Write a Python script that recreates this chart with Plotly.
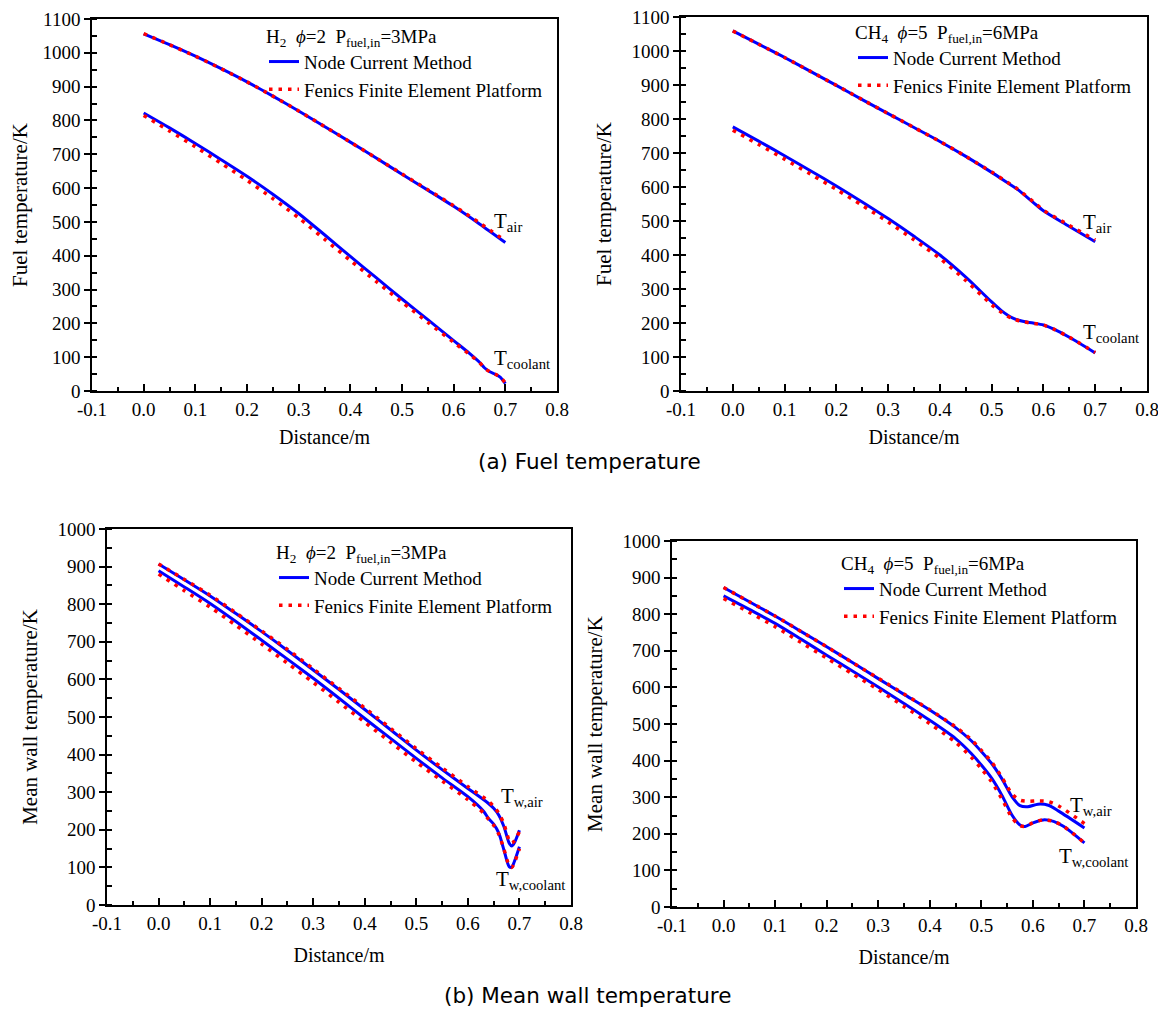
import plotly.graph_objects as go

# ---------------- data ----------------
# (a) H2 fuel temperature
tl_x_air = [0, 0.05, 0.1, 0.15, 0.2, 0.25, 0.3, 0.35, 0.4, 0.45, 0.5, 0.55, 0.6, 0.65, 0.7]
tl_air_ncm = [1056, 1024, 990, 953, 914, 872, 828, 782, 736, 689, 641, 594, 546, 494, 439]
tl_air_fen = [1057, 1024, 990, 953, 914, 872, 828, 782, 736, 689, 642, 595, 548, 497, 444]
tl_x_cool = [0, 0.05, 0.1, 0.15, 0.2, 0.25, 0.3, 0.35, 0.4, 0.45, 0.5, 0.55, 0.6, 0.63, 0.65, 0.66, 0.67, 0.68, 0.69, 0.7]
tl_cool_ncm = [822, 778, 732, 684, 635, 582, 525, 462, 398, 335, 272, 211, 149, 112, 85, 68, 57, 50, 41, 22]
tl_cool_fen = [815, 769, 722, 673, 623, 569, 512, 449, 386, 324, 263, 203, 144, 109, 84, 67, 57, 50, 41, 24]

# (a) CH4 fuel temperature
tr_x_air = [0, 0.05, 0.1, 0.15, 0.2, 0.25, 0.3, 0.35, 0.4, 0.45, 0.5, 0.53, 0.55, 0.58, 0.6, 0.65, 0.7]
tr_air_ncm = [1059, 1020, 981, 940, 899, 857, 816, 775, 734, 690, 643, 613, 593, 555, 530, 484, 439]
tr_air_fen = [1059, 1020, 981, 940, 899, 857, 816, 775, 734, 690, 644, 614, 594, 557, 532, 487, 444]
tr_x_cool = [0, 0.05, 0.1, 0.15, 0.2, 0.25, 0.3, 0.35, 0.4, 0.45, 0.5, 0.52, 0.54, 0.56, 0.58, 0.6, 0.62, 0.65, 0.7]
tr_cool_ncm = [777, 735, 692, 648, 603, 556, 507, 455, 400, 335, 262, 235, 215, 205, 200, 194, 182, 158, 112]
tr_cool_fen = [767, 725, 682, 638, 593, 546, 497, 445, 390, 325, 254, 230, 213, 204, 199, 194, 182, 158, 113]

# (b) H2 mean wall temperature
bl_x_air = [0, 0.05, 0.1, 0.15, 0.2, 0.25, 0.3, 0.35, 0.4, 0.45, 0.5, 0.55, 0.6, 0.64, 0.65, 0.66, 0.67, 0.68, 0.685, 0.69, 0.7]
bl_air_ncm = [907, 865, 822, 775, 727, 677, 625, 573, 520, 466, 412, 360, 310, 270, 257, 239, 208, 165, 157, 165, 199]
bl_air_fen = [907, 866, 824, 777, 729, 680, 628, 576, 524, 470, 416, 365, 315, 276, 262, 244, 215, 172, 165, 170, 195]
bl_x_cool = [0, 0.05, 0.1, 0.15, 0.2, 0.25, 0.3, 0.35, 0.4, 0.45, 0.5, 0.55, 0.6, 0.63, 0.64, 0.65, 0.66, 0.67, 0.68, 0.685, 0.69, 0.7]
bl_cool_ncm = [889, 846, 802, 754, 704, 654, 603, 550, 496, 443, 390, 338, 288, 250, 230, 215, 191, 146, 102, 100, 115, 155]
bl_cool_fen = [880, 836, 792, 744, 694, 643, 592, 539, 486, 433, 380, 330, 280, 245, 228, 212, 188, 148, 105, 100, 112, 150]

# (b) CH4 mean wall temperature
br_x_air = [0, 0.05, 0.1, 0.15, 0.2, 0.25, 0.3, 0.35, 0.4, 0.45, 0.48, 0.5, 0.52, 0.54, 0.56, 0.575, 0.59, 0.61, 0.63, 0.65, 0.7]
br_air_ncm = [873, 834, 795, 753, 711, 668, 624, 581, 538, 490, 455, 425, 392, 350, 300, 277, 274, 281, 278, 262, 216]
br_air_fen = [873, 834, 795, 753, 711, 668, 625, 582, 539, 492, 458, 428, 396, 354, 308, 292, 289, 290, 288, 276, 228]
br_x_cool = [0, 0.05, 0.1, 0.15, 0.2, 0.25, 0.3, 0.35, 0.4, 0.45, 0.48, 0.5, 0.52, 0.54, 0.56, 0.575, 0.585, 0.6, 0.62, 0.64, 0.66, 0.7]
br_cool_ncm = [850, 813, 775, 732, 688, 645, 601, 556, 510, 460, 420, 388, 352, 305, 250, 224, 220, 230, 238, 234, 220, 175]
br_cool_fen = [843, 805, 766, 723, 680, 637, 594, 548, 501, 450, 410, 378, 342, 295, 243, 222, 220, 230, 238, 234, 220, 175]

x_tick_vals = [-0.1, 0.0, 0.1, 0.2, 0.3, 0.4, 0.5, 0.6, 0.7, 0.8]
x_tick_text = ["-0.1", "0.0", "0.1", "0.2", "0.3", "0.4", "0.5", "0.6", "0.7", "0.8"]

series_names = ["Node Current Method", "Fenics Finite Element Platform"]
legend_titles = [
    "H<sub>2</sub>  <i>ϕ</i>=2  P<sub>fuel,in</sub>=3MPa",
    "CH<sub>4</sub>  <i>ϕ</i>=5  P<sub>fuel,in</sub>=6MPa",
    "H<sub>2</sub>  <i>ϕ</i>=2  P<sub>fuel,in</sub>=3MPa",
    "CH<sub>4</sub>  <i>ϕ</i>=5  P<sub>fuel,in</sub>=6MPa",
]
y_titles = ["Fuel temperature/K", "Fuel temperature/K", "Mean wall temperature/K", "Mean wall temperature/K"]
captions = ["(a) Fuel temperature", "(b) Mean wall temperature"]

# ---------------- layout geometry ----------------
W, H = 1166, 1019
OFF = 8  # page body margin of the html page
SERIF = "Liberation Serif"
SANS = "DejaVu Sans"
BLUE = "#0000ff"
RED = "#ff0000"


def px_x(p):
    return (p - OFF) / W


def px_y(p):
    return 1 - (p - OFF) / H


panels = [
    dict(box=(92, 557, 19, 391), yr=[0, 1100], xstand=11,
         data=(tl_x_air, tl_air_ncm, tl_air_fen, tl_x_cool, tl_cool_ncm, tl_cool_fen),
         leg=(264, 18),
         labels=[("T<sub>air</sub>", 0.675, 500), ("T<sub>coolant</sub>", 0.675, 95)]),
    dict(box=(681, 1147, 17, 391), yr=[0, 1100], xstand=11,
         data=(tr_x_air, tr_air_ncm, tr_air_fen, tr_x_cool, tr_cool_ncm, tr_cool_fen),
         leg=(853, 14),
         labels=[("T<sub>air</sub>", 0.672, 495), ("T<sub>coolant</sub>", 0.672, 172)]),
    dict(box=(107, 571, 529, 905), yr=[0, 1000], xstand=15,
         data=(bl_x_air, bl_air_ncm, bl_air_fen, bl_x_cool, bl_cool_ncm, bl_cool_fen),
         leg=(274, 534),
         labels=[("T<sub>w,air</sub>", 0.66, 288), ("T<sub>w,coolant</sub>", 0.65, 67)]),
    dict(box=(672, 1136, 541, 907), yr=[0, 1000], xstand=15,
         data=(br_x_air, br_air_ncm, br_air_fen, br_x_cool, br_cool_ncm, br_cool_fen),
         leg=(839, 545),
         labels=[("T<sub>w,air</sub>", 0.669, 275), ("T<sub>w,coolant</sub>", 0.647, 137)]),
]

fig = go.Figure()
annotations = []

for i, p in enumerate(panels):
    n = "" if i == 0 else str(i + 1)
    xa, ya = "x" + n, "y" + n
    leg = "legend" + n
    x_air, air_ncm, air_fen, x_cool, cool_ncm, cool_fen = p["data"]
    common = dict(xaxis=xa, yaxis=ya, legend=leg, mode="lines", hoverinfo="skip")
    blue = dict(color=BLUE, width=3, shape="spline", smoothing=0.8)
    red = dict(color=RED, width=3.5, dash="3.5px,6px", shape="spline", smoothing=0.8)
    fig.add_trace(go.Scatter(x=x_air, y=air_ncm, name=series_names[0], line=blue, showlegend=True, **common))
    fig.add_trace(go.Scatter(x=x_cool, y=cool_ncm, name=series_names[0], line=blue, showlegend=False, **common))
    fig.add_trace(go.Scatter(x=x_air, y=air_fen, name=series_names[1], line=red, showlegend=True, **common))
    fig.add_trace(go.Scatter(x=x_cool, y=cool_fen, name=series_names[1], line=red, showlegend=False, **common))

    x0, x1, yt, yb = p["box"]
    axis_common = dict(
        showline=True, linecolor="black", linewidth=1.6, mirror=True,
        showgrid=False, zeroline=False, automargin=False,
        ticklabeloverflow="allow",
        tickfont=dict(family=SERIF, size=19, color="black"),
    )
    fig.layout["xaxis" + n] = dict(
        domain=[px_x(x0), px_x(x1)], anchor=ya, range=[-0.1, 0.8],
        tickmode="array", tickvals=x_tick_vals, ticktext=x_tick_text,
        ticks="inside", ticklen=7, tickwidth=1.5, tickcolor="black",
        minor=dict(ticks="inside", ticklen=4, tickwidth=1.5, tickcolor="black", dtick=0.05, tick0=0),
        title=dict(text="Distance/m", standoff=p["xstand"], font=dict(family=SERIF, size=20, color="black")),
        **axis_common,
    )
    fig.layout["yaxis" + n] = dict(
        domain=[px_y(yb), px_y(yt)], anchor=xa, range=p["yr"],
        dtick=100, tick0=0,
        ticks="outside", ticklen=6, tickwidth=1.5, tickcolor="black",
        minor=dict(ticks="inside", ticklen=5, tickwidth=1.5, tickcolor="black", dtick=50, tick0=0),
        title=dict(text=y_titles[i], standoff=14, font=dict(family=SERIF, size=21, color="black")),
        **axis_common,
    )
    lx, ly = p["leg"]
    fig.layout[leg] = dict(
        x=px_x(lx), y=px_y(ly), xanchor="left", yanchor="top",
        bgcolor="rgba(0,0,0,0)", borderwidth=0,
        font=dict(family=SERIF, size=19, color="black"),
        title=dict(text=legend_titles[i], font=dict(family=SERIF, size=19, color="black"), side="top"),
        itemwidth=30, tracegroupgap=0,
    )
    for txt, lxv, lyv in p["labels"]:
        annotations.append(dict(
            x=lxv, y=lyv, xref=xa, yref=ya, text=txt, showarrow=False,
            xanchor="left", yanchor="middle",
            font=dict(family=SERIF, size=21, color="black"),
        ))

annotations.append(dict(x=px_x(589), y=px_y(462), xref="paper", yref="paper", text=captions[0],
                        showarrow=False, xanchor="center", yanchor="middle",
                        font=dict(family=SANS, size=21.5, color="black")))
annotations.append(dict(x=px_x(587), y=px_y(995), xref="paper", yref="paper", text=captions[1],
                        showarrow=False, xanchor="center", yanchor="middle",
                        font=dict(family=SANS, size=21.5, color="black")))

fig.update_layout(
    width=W, height=H,
    margin=dict(l=0, r=0, t=0, b=0, autoexpand=False),
    paper_bgcolor="white", plot_bgcolor="white",
    font=dict(family=SERIF, size=19, color="black"),
    annotations=annotations,
    showlegend=True,
)

fig.write_html("out.html")
